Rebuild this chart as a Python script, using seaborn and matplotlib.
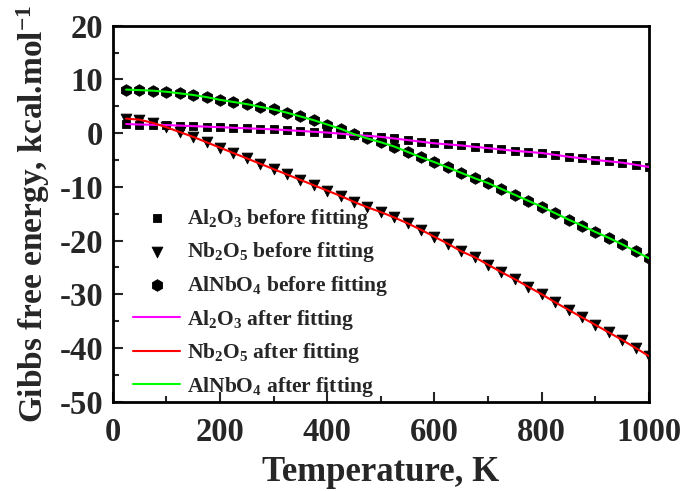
import numpy as np
import pandas as pd
import seaborn as sns
import matplotlib
matplotlib.use("Agg")
import matplotlib.pyplot as plt
from matplotlib.ticker import MultipleLocator

# ---- data ----
temperature = [25, 50, 75, 100, 125, 150, 175, 200, 225, 250, 275, 300, 325, 350, 375,
               400, 425, 450, 475, 500, 525, 550, 575, 600, 625, 650, 675, 700, 725, 750,
               775, 800, 825, 850, 875, 900, 925, 950, 975, 1000]

al2o3 = [1.7, 1.6, 1.55, 1.5, 1.4, 1.3, 1.2, 1.1, 1.0, 0.9, 0.8, 0.7, 0.55, 0.4, 0.25,
         0.1, -0.1, -0.35, -0.5, -0.7, -1.0, -1.3, -1.6, -1.9, -2.1, -2.3, -2.55, -2.8, -3.05, -3.3,
         -3.5, -3.7, -4.05, -4.4, -4.7, -5.0, -5.25, -5.5, -5.9, -6.3]

nb2o5 = [2.7, 2.5, 1.9, 1.1, 0.2, -0.7, -1.7, -2.7, -3.7, -4.7, -5.7, -6.7, -7.7, -8.7, -9.7,
         -10.7, -11.7, -12.8, -13.8, -14.7, -15.7, -16.8, -18.0, -19.3, -20.6, -22.0, -23.1, -24.5, -25.9, -27.2,
         -28.6, -30.0, -31.5, -32.9, -34.3, -35.7, -37.1, -38.5, -40.0, -41.5]

alnbo4 = [8.1, 8.0, 7.9, 7.7, 7.4, 7.1, 6.7, 6.2, 5.8, 5.4, 4.9, 4.4, 3.8, 3.1, 2.4,
          1.6, 0.8, -0.2, -1.0, -1.7, -2.5, -3.5, -4.5, -5.4, -6.4, -7.4, -8.4, -9.3, -10.4, -11.5,
          -12.6, -13.7, -14.9, -16.1, -17.2, -18.4, -19.5, -20.7, -22.0, -23.3]

labels_before = [r"Al$_2$O$_3$ before fitting", r"Nb$_2$O$_5$ before fitting", r"AlNbO$_4$ before fitting"]
labels_after = [r"Al$_2$O$_3$ after fitting", r"Nb$_2$O$_5$ after fitting", r"AlNbO$_4$ after fitting"]
x_ticks = [0, 200, 400, 600, 800, 1000]
y_ticks = [-50, -40, -30, -20, -10, 0, 10, 20]

# ---- style ----
sns.set_style("ticks")
plt.rcParams["font.family"] = ["Liberation Serif", "DejaVu Serif"]
plt.rcParams["font.weight"] = "bold"
plt.rcParams["axes.unicode_minus"] = False
plt.rcParams["mathtext.fontset"] = "custom"
plt.rcParams["mathtext.rm"] = "Liberation Serif:bold"
plt.rcParams["mathtext.it"] = "Liberation Serif:bold"
plt.rcParams["mathtext.bf"] = "Liberation Serif:bold"
plt.rcParams["mathtext.default"] = "rm"

fig = plt.figure(figsize=(6.85, 4.91), dpi=100)
ax = fig.add_axes([0.1645, 0.1819, 0.9474 - 0.1645, 0.9477 - 0.1819])

series = [al2o3, nb2o5, alnbo4]
markers = ["s", "v", "h"]
msizes = [36, 60, 70]
line_colors = ["#FF00FF", "#FF0000", "#00FF00"]

for vals, mk, ms, lab in zip(series, markers, msizes, labels_before):
    df = pd.DataFrame({"T": temperature, "G": vals})
    sns.scatterplot(data=df, x="T", y="G", marker=mk, s=ms, color="black",
                    edgecolor="black", linewidth=0.6, ax=ax, label=lab, zorder=3)

for vals, col, lab in zip(series, line_colors, labels_after):
    df = pd.DataFrame({"T": temperature, "G": vals})
    sns.lineplot(data=df, x="T", y="G", color=col, linewidth=1.5, ax=ax, label=lab, zorder=4)

ax.set_xlim(0, 1000)
ax.set_ylim(-50, 20)
ax.set_xticks(x_ticks)
ax.set_yticks(y_ticks)
ax.xaxis.set_minor_locator(MultipleLocator(100))
ax.yaxis.set_minor_locator(MultipleLocator(5))
ax.tick_params(which="major", direction="in", length=7, width=1.5, labelsize=23.5, pad=7)
ax.tick_params(which="minor", direction="in", length=4, width=1.5)
ax.tick_params(axis="x", which="major", pad=11)
for sp in ax.spines.values():
    sp.set_linewidth(2)
    sp.set_color("black")

ax.set_xlabel("Temperature, K", fontsize=25, fontweight="bold", labelpad=6)
ax.set_ylabel(r"Gibbs free energy, kcal.mol$^{-1}$", fontsize=24, fontweight="bold", labelpad=5)

handles, labels = ax.get_legend_handles_labels()
ax.legend(handles, labels, loc="upper left", bbox_to_anchor=(0.038, 0.519), frameon=False,
          fontsize=15.5, handlelength=2.2, handletextpad=0.3, labelspacing=0.45,
          borderpad=0, borderaxespad=0, markerscale=1.0)

fig.savefig("out.png", dpi=100)
